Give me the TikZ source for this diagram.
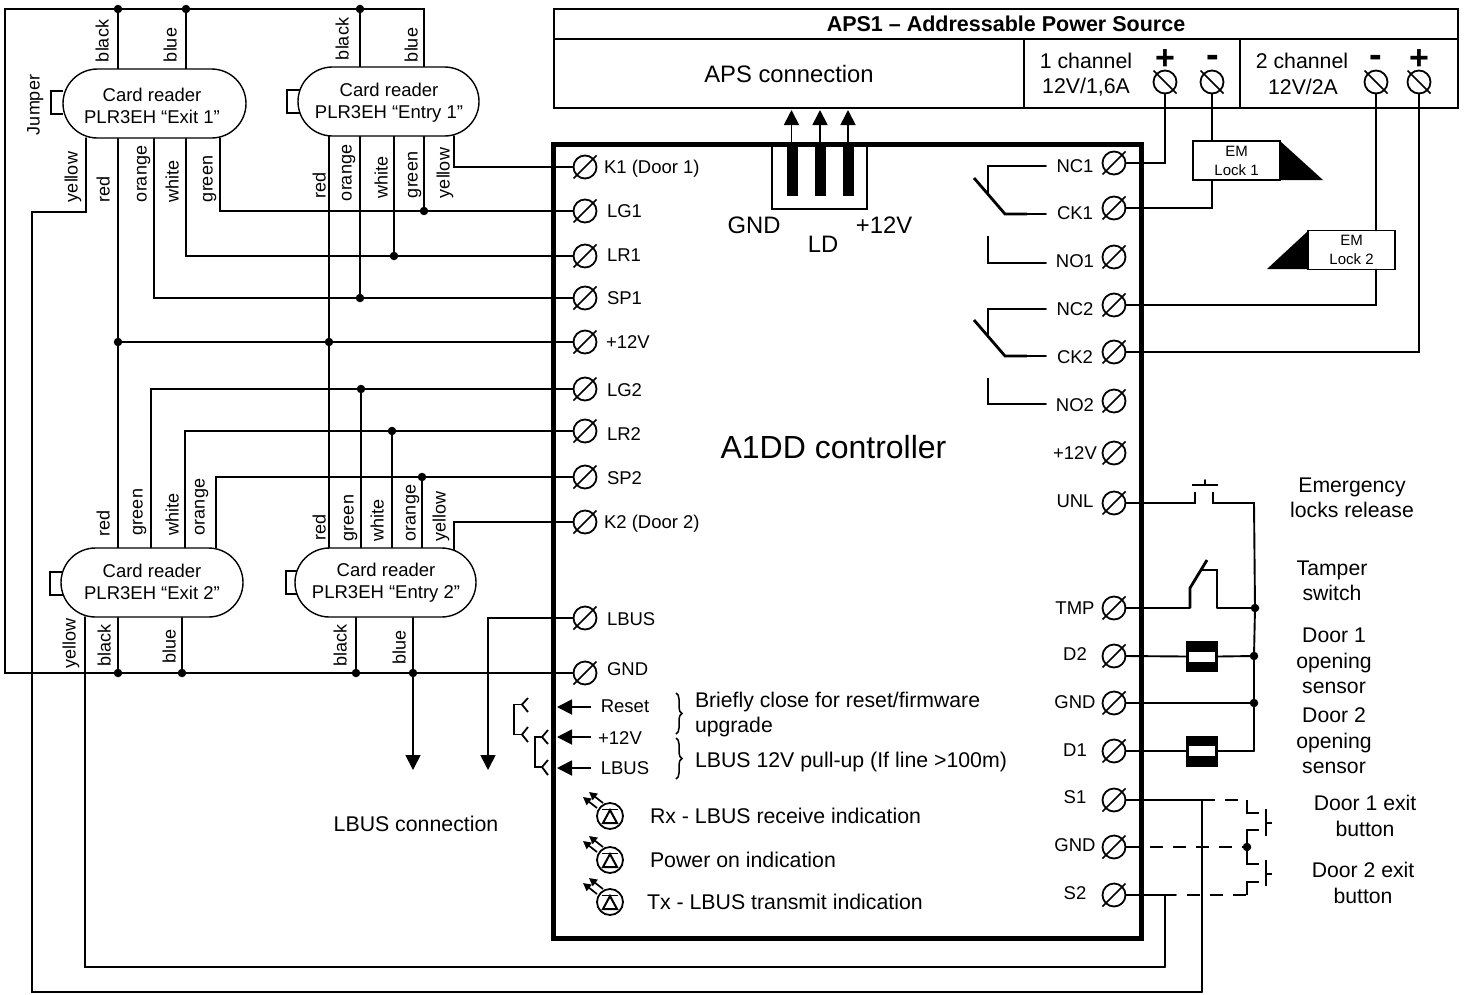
\documentclass[tikz,border=0pt]{standalone}
\usepackage{fontspec}
\setmainfont{Liberation Sans}
\usetikzlibrary{arrows.meta,shapes.misc,decorations.pathreplacing}
\tikzset{
  x=1pt,y=-1pt,
  every node/.style={inner sep=0pt,outer sep=0pt},
  wire/.style={line width=1.9pt,line cap=round,line join=miter},
  hvy/.style={line width=2.8pt,line join=miter},
  dashw/.style={line width=1.9pt,dash pattern=on 13pt off 10pt},
  frame/.style={line width=5pt,line join=miter},
  apsb/.style={line width=2.8pt,line join=miter},
  termc/.style={circle,draw,line width=1.8pt,minimum size=23pt,fill=white},
  termslash/.style={line width=1.6pt},
  dot/.style={circle,fill=black,minimum size=8.5pt},
  reader/.style={rounded rectangle,draw,line width=1.4pt,fill=white},
  rtext/.style={align=center,font=\fontsize{18.5}{22}\selectfont},
  jump/.style={line width=1.8pt},
  t18/.style={font=\fontsize{18.5}{22}\selectfont,text depth=0pt,text height=13pt},
  t21/.style={font=\fontsize{21.2}{25.5}\selectfont,align=center},
  t21s/.style={font=\fontsize{21.3}{25}\selectfont,text depth=0pt,text height=15pt},
  t23/.style={font=\fontsize{23.8}{28}\selectfont,text depth=0pt,text height=17pt},
  vlabel/.style={font=\fontsize{18}{22}\selectfont,rotate=90,anchor=base west},
  emlock/.style={rectangle,draw,line width=1.4pt,align=center,minimum width=87pt,minimum height=39pt,
     font=\fontsize{15}{19}\selectfont},
  sensb/.style={rectangle,fill=black,minimum width=32pt,minimum height=31pt},
  sensw/.style={rectangle,fill=white,minimum width=26pt,minimum height=10pt},
  bigarr/.style={line width=1.8pt,-{Triangle[length=15pt,width=15pt]}},
  ledarr/.style={line width=1.7pt,-{Triangle[length=8pt,width=8pt]}},
  bracew/.style={line width=1.5pt,decorate,decoration={brace,amplitude=6pt}},
  led/.pic={
    \draw[line width=1.8pt] (0,0) circle[radius=13];
    \draw[line width=2pt] (-7,7) -- (7,7) -- (0,-6) -- cycle;
    \draw[line width=1.5pt] (-8,-6.5) -- (8,-6.5);
    \draw[ledarr] (-13,-8) -- (-27,-19);
    \draw[ledarr] (-7,-13) -- (-21,-24);
  },
}
\newcommand{\term}[3]{\node[termc] (#1) at (#2,#3) {};
  \draw[termslash] ([shift={(-11.5,11.5)}]#1.center) -- ([shift={(11.5,-11.5)}]#1.center);}
\newcommand{\termb}[3]{\node[termc] (#1) at (#2,#3) {};
  \draw[termslash] ([shift={(-11.5,-11.5)}]#1.center) -- ([shift={(11.5,11.5)}]#1.center);}
\newcommand{\vlab}[3]{\node[vlabel] (v-#1-#2) at (#1+6.5,#2) {#3};}
\newcommand{\junc}[3]{\node[dot] (#1) at (#2,#3) {};}
\begin{document}
\begin{tikzpicture}
\useasboundingbox (0,0) rectangle (1464,994);

%% terminals left
\term{tk1}{585}{167}\term{tlg1}{585}{211}\term{tlr1}{585}{256}\term{tsp1}{585}{298}
\term{tpa}{585}{342}\term{tlg2}{585}{389}\term{tlr2}{585}{431}\term{tsp2}{585}{477}
\term{tk2}{585}{522}\term{tlb}{585}{618}\term{tgn}{585}{673}
%% terminals right
\term{tnc1}{1114}{163}\term{tck1}{1114}{208}\term{tno1}{1114}{257}
\term{tnc2}{1114}{305}\term{tck2}{1114}{352}\term{tno2}{1114}{401}
\term{tpb}{1114}{453}\term{tun}{1114}{503}\term{ttm}{1114}{608}
\term{td2}{1114}{656}\term{tg2}{1114}{703}\term{td1}{1114}{751}
\term{ts1}{1114}{800}\term{tg3}{1114}{847}\term{ts2}{1114}{895}

%% APS
\draw[apsb] (554,9) rectangle (1458,108);
\draw[apsb] (554,39) -- (1458,39);
\draw[apsb] (1024,39) -- (1024,108);
\draw[apsb] (1240,39) -- (1240,108);
\node[font=\bfseries\fontsize{21.5}{25}\selectfont] (apst) at (1006,24) {APS1 – Addressable Power Source};
\node[t23] (apsc) at (789,74) {APS connection};
\node[t21s] (ch1a) at (1086,61) {1 channel};
\node[t21s] (ch1b) at (1086,86) {12V/1,6A};
\node[t21s] (ch2a) at (1302,61) {2 channel};
\node[t21s] (ch2b) at (1303,87) {12V/2A};
\termb{ap1}{1165}{82}\termb{am1}{1212}{82}\termb{am2}{1376}{82}\termb{ap2}{1419}{82}
\node[font=\bfseries\fontsize{34}{34}\selectfont] (pl1) at (1165,60) {+};
\node[font=\bfseries\fontsize{38}{38}\selectfont] (mn1) at (1213,61) {-};
\node[font=\bfseries\fontsize{38}{38}\selectfont] (mn2) at (1376,61) {-};
\node[font=\bfseries\fontsize{34}{34}\selectfont] (pl2) at (1419,60) {+};

%% EM locks
\node[emlock] (em1) at (1236.5,160.5) {EM\\Lock 1};
\fill (1280,141) -- (1323,180) -- (1280,180) -- cycle;
\node[emlock] (em2) at (1351.5,250) {EM\\Lock 2};
\fill (1308,231) -- (1267,269) -- (1308,269) -- cycle;
\draw[wire] (ap1.south) -- (ap1.south |- tnc1.east) -- (tnc1.east);
\draw[wire] (am1.south) -- (am1.south |- em1.north);
\draw[wire] (am1.south |- em1.south) |- (tck1.east);
\draw[wire] (am2.south) -- (am2.south |- em2.north);
\draw[wire] (am2.south |- em2.south) |- (tnc2.east);
\draw[wire] (ap2.south) |- (tck2.east);

%% wires from readers, coordinates on readers
\coordinate (ctl) at (5,9);
\coordinate (ctr) at (424,9);
\coordinate (cbk1) at (118,69);
\coordinate (cbl1) at (186,69);
\coordinate (cbk2) at (360,67);
\coordinate (cbl2) at (424,67);
\junc{j1}{118}{9}\junc{j2}{186}{9}\junc{j3}{360}{9}
\draw[wire] (tgn.west) -| (ctl) -- (ctr) -- (cbl2);
\draw[wire] (j1) -- (cbk1);
\draw[wire] (j2) -- (cbl1);
\draw[wire] (j3) -- (cbk2);

% below exit 1
\coordinate (e1y) at (86,138);
\coordinate (e1r) at (118,138);
\coordinate (e1o) at (154,138);
\coordinate (e1w) at (186,138);
\coordinate (e1g) at (220,138);
\coordinate (ylo) at (32,212);
\coordinate (ylb) at (32,992);
\coordinate (ylr) at (1202,992);
\draw[wire] (e1y) |- (ylo) -- (ylb) -- (ylr);
\draw[wire] (e1g) |- (tlg1.west);
\draw[wire] (e1w) |- (tlr1.west);
\draw[wire] (e1o) |- (tsp1.west);
% below entry 1
\coordinate (n1r) at (329,136);
\coordinate (n1o) at (360,136);
\coordinate (n1w) at (394,136);
\coordinate (n1g) at (424,136);
\coordinate (n1y) at (454,136);
\junc{j4}{424}{211}\junc{j5}{394}{256}\junc{j6}{360}{298}
\junc{j7}{118}{342}\junc{j8}{329}{342}
\draw[wire] (n1g) -- (j4);
\draw[wire] (n1w) -- (j5);
\draw[wire] (n1o) -- (j6);
\draw[wire] (n1y) |- (tk1.west);
\draw[wire] (j7) -- (tpa.west);
% red wires
\coordinate (x2r) at (118,548);
\coordinate (n2r) at (329,548);
\draw[wire] (e1r) -- (x2r);
\draw[wire] (n1r) -- (n2r);
% top of exit 2
\coordinate (x2g) at (151,548);
\coordinate (x2w) at (185,548);
\coordinate (x2o) at (216,548);
\draw[wire] (x2g) |- (tlg2.west);
\draw[wire] (x2w) |- (tlr2.west);
\draw[wire] (x2o) |- (tsp2.west);
% top of entry 2
\coordinate (n2g) at (361,548);
\coordinate (n2w) at (392,548);
\coordinate (n2o) at (422,548);
\coordinate (n2y) at (454,552);
\junc{j9}{361}{389}\junc{j10}{392}{431}\junc{j11}{422}{477}
\draw[wire] (n2g) -- (j9);
\draw[wire] (n2w) -- (j10);
\draw[wire] (n2o) -- (j11);
\draw[wire] (n2y) |- (tk2.west);
% bottom of readers 2
\coordinate (x2y) at (85,617);
\coordinate (x2k) at (118,617);
\coordinate (x2l) at (182,617);
\coordinate (n2k) at (356,617);
\coordinate (n2l) at (413,617);
\coordinate (ylc) at (85,967);
\coordinate (ylt) at (1165,967);
\junc{j12}{118}{673}\junc{j13}{182}{673}\junc{j14}{356}{673}\junc{j15}{413}{673}
\draw[wire] (x2y) -- (ylc) -- (ylt);
\draw[wire] (x2k) -- (j12);
\draw[wire] (x2l) -- (j13);
\draw[wire] (n2k) -- (j14);
\coordinate (arg) at (413,770);
\coordinate (arb) at (488,770);
\draw[bigarr] (n2l) -- (arg);
\draw[bigarr] (tlb.west) -| (arb);

%% readers
\draw[jump] (63,91) -- (51,91) -- (51,114) -- (63,114);
\draw[jump] (300,90) -- (287,90) -- (287,113) -- (300,113);
\draw[jump] (63,572) -- (50,572) -- (50,595) -- (63,595);
\draw[jump] (298,571) -- (286,571) -- (286,594) -- (298,594);
\node[reader,minimum width=183pt,minimum height=69pt] (r1) at (154.5,103.5) {};
\node[reader,minimum width=181pt,minimum height=69pt] (r2) at (388.5,101.5) {};
\node[reader,minimum width=182pt,minimum height=69pt] (r3) at (152,582.5) {};
\node[reader,minimum width=181pt,minimum height=69pt] (r4) at (385.5,582.5) {};
\node[rtext] (r1t) at (152,106) {Card reader\\PLR3EH “Exit 1”};
\node[rtext] (r2t) at (389,103) {Card reader\\PLR3EH “Entry 1”};
\node[rtext] (r3t) at (152,582) {Card reader\\PLR3EH “Exit 2”};
\node[rtext] (r4t) at (386,583) {Card reader\\PLR3EH “Entry 2”};

%% wire labels
\vlab{102}{62}{black}\vlab{170}{62}{blue}\vlab{342}{60}{black}\vlab{411}{62}{blue}
\node[vlabel] (vjmp) at (39.5,135) {Jumper};
\vlab{71}{202}{yellow}\vlab{103}{202}{red}\vlab{140}{202}{orange}\vlab{172}{202}{white}\vlab{206}{202}{green}
\vlab{319}{198}{red}\vlab{345}{201}{orange}\vlab{381}{198}{white}\vlab{411}{198}{green}\vlab{443}{198}{yellow}
\vlab{103}{536}{red}\vlab{136}{535}{green}\vlab{172}{535}{white}\vlab{198}{535}{orange}
\vlab{319}{540}{red}\vlab{347}{541}{green}\vlab{377}{541}{white}\vlab{409}{541}{orange}\vlab{439}{541}{yellow}
\vlab{69}{668}{yellow}\vlab{104}{666}{black}\vlab{169}{663}{blue}\vlab{340}{666}{black}\vlab{399}{664}{blue}

%% frame
\draw[frame] (553.5,144.5) rectangle (1141,938);

%% left terminal labels
\node[t18,anchor=west] (lk1) at (604,167) {K1 (Door 1)};
\node[t18,anchor=west] (llg1) at (607,211) {LG1};
\node[t18,anchor=west] (llr1) at (607,255) {LR1};
\node[t18,anchor=west] (lsp1) at (607,298) {SP1};
\node[t18,anchor=west] (lpa) at (606,342) {+12V};
\node[t18,anchor=west] (llg2) at (607,390) {LG2};
\node[t18,anchor=west] (llr2) at (607,434) {LR2};
\node[t18,anchor=west] (lsp2) at (607,478) {SP2};
\node[t18,anchor=west] (lk2) at (604,522) {K2 (Door 2)};
\node[t18,anchor=west] (llb) at (607,619) {LBUS};
\node[t18,anchor=west] (lgn) at (607,669) {GND};
%% right terminal labels
\node[t18] (lnc1) at (1075,166) {NC1};
\node[t18] (lck1) at (1075,213) {CK1};
\node[t18] (lno1) at (1075,261) {NO1};
\node[t18] (lnc2) at (1075,309) {NC2};
\node[t18] (lck2) at (1075,357) {CK2};
\node[t18] (lno2) at (1075,405) {NO2};
\node[t18] (lpb) at (1075,453) {+12V};
\node[t18] (lun) at (1075,501) {UNL};
\node[t18] (ltm) at (1075,608) {TMP};
\node[t18] (ld2) at (1075,654) {D2};
\node[t18] (lg2) at (1075,702) {GND};
\node[t18] (ld1) at (1075,750) {D1};
\node[t18] (ls1) at (1075,797) {S1};
\node[t18] (lg3) at (1075,845) {GND};
\node[t18] (ls2) at (1075,893) {S2};

%% LD connector
\draw[wire] (772,145) -- (772,209) -- (867,209) -- (867,145);
\fill (787,145) rectangle (798,196);
\fill (815,145) rectangle (826,196);
\fill (843,145) rectangle (854,196);
\coordinate (a1s) at (791.5,145);\coordinate (a1t) at (791.5,110);
\coordinate (a2s) at (820,145);\coordinate (a2t) at (820,110);
\coordinate (a3s) at (848,145);\coordinate (a3t) at (848,110);
\draw[bigarr] (a1s) -- (a1t);
\draw[bigarr] (a2s) -- (a2t);
\draw[bigarr] (a3s) -- (a3t);
\node[t23] (ldg) at (754,225) {GND};
\node[t23] (ldp) at (884,225) {+12V};
\node[t23] (ldl) at (823,244) {LD};
\node[font=\fontsize{32}{36}\selectfont] (ctrl) at (833.5,447) {A1DD controller};

%% relays
\draw[hvy] (1027,166) -- (988,166) -- (988,195);
\draw[wire] (1027,166) -- (1046,166);
\draw[hvy] (974,178) -- (1005,214) -- (1027,214);
\draw[wire] (1027,214) -- (1046,214);
\draw[hvy] (988,236) -- (988,263) -- (1027,263);
\draw[wire] (1027,263) -- (1046,263);
\draw[hvy] (1027,309) -- (988,309) -- (988,338);
\draw[wire] (1027,309) -- (1046,309);
\draw[hvy] (974,320) -- (1005,356) -- (1027,356);
\draw[wire] (1027,356) -- (1046,356);
\draw[hvy] (988,378) -- (988,404) -- (1027,404);
\draw[wire] (1027,404) -- (1046,404);

%% right lower circuit
\junc{j20}{1255}{608}\junc{j21}{1254}{656}\junc{j22}{1254}{703}
\coordinate (uc1) at (1184,503);
\coordinate (uc2) at (1225,503);
\coordinate (ur) at (1254,503);
\coordinate (dr) at (1254,751);
\draw[wire] (tun.east) -- (uc1);
\draw[hvy] (uc1) -- (1195,503) -- (1195,492);
\draw[hvy] (1213,492) -- (1213,503) -- (uc2);
\draw[wire] (uc2) -- (ur) -- (j20);
\draw[hvy] (1192,485) -- (1218,485);
\draw[wire] (1205,480) -- (1205,485);
\draw[wire] (j20) -- (j21) -- (j22) -- (dr);
\draw[wire] (ttm.east) -- (1190,608);
\draw[hvy] (1190,608) -- (1190,588) -- (1207,560);
\draw[hvy] (1200,570) -- (1217,570) -- (1217,608);
\draw[wire] (1217,608) -- (j20);
\node[sensb] (sd2) at (1202,656.5) {};
\node[sensw] at (1202,657) (sd2w) {};
\node[sensb] (sd1) at (1202,751) {};
\node[sensw] at (1202,751) (sd1w) {};
\draw[wire] (td2.east) -- (sd2.west);
\draw[wire] (sd2.east) -- (j21);
\draw[wire] (tg2.east) -- (j22);
\draw[wire] (td1.east) -- (sd1.west);
\draw[wire] (sd1.east) -- (dr);

%% exit buttons
\coordinate (v1) at (1202,800);
\coordinate (v2) at (1165,895);
\junc{j30}{1247}{847}
\draw[wire] (ts1.east) -- (v1) -- (ylr);
\draw[wire] (ts2.east) -- (1176,895);
\draw[wire] (v2) -- (ylt);
\draw[dashw] (v1) -- (1240,800);
\draw[dashw] (1187,895) -- (1247,895);
\draw[wire] (tg3.east) -- (1142,847);
\draw[dashw] (1150,847) -- (j30);
\draw[hvy] (1247,800) -- (1247,813) -- (1259,813);
\draw[hvy] (1259,830) -- (1247,830) -- (1247,864) -- (1259,864);
\draw[hvy] (1259,882) -- (1247,882) -- (1247,895);
\draw[hvy] (1266,809) -- (1266,836);
\draw[hvy] (1266,823) -- (1272,823);
\draw[hvy] (1266,860) -- (1266,886);
\draw[hvy] (1266,874) -- (1272,874);

%% right texts
\node[t21] (temg) at (1352,498) {Emergency\\locks release};
\node[t21] (ttmp) at (1332,581) {Tamper\\switch};
\node[t21] (tds1) at (1334,661) {Door 1\\opening\\sensor};
\node[t21] (tds2) at (1334,741) {Door 2\\opening\\sensor};
\node[t21] (tex1) at (1365,816) {Door 1 exit\\button};
\node[t21] (tex2) at (1363,883) {Door 2 exit\\button};

%% jumpers and indications
\coordinate (rt) at (557,707);\coordinate (rs) at (591,707);
\coordinate (pt) at (557,737);\coordinate (ps) at (591,737);
\coordinate (bt) at (557,768);\coordinate (bs) at (591,768);
\draw[bigarr] (rs) -- (rt);
\draw[bigarr] (ps) -- (pt);
\draw[bigarr] (bs) -- (bt);
\node[t18] (lrs) at (625,706) {Reset};
\node[t18] (lp3) at (620,738) {+12V};
\node[t18] (lb3) at (625,768) {LBUS};
\draw[jump,line join=miter] (528,698) -- (522,704.5) -- (528,712);
\draw[jump,line join=miter] (528,727) -- (522,734.5) -- (528,742);
\draw[jump] (522,704.5) -- (514,704.5) -- (514,734.5) -- (522,734.5);
\draw[jump,line join=miter] (548,730) -- (542,737) -- (548,744);
\draw[jump,line join=miter] (548,760) -- (542,767) -- (548,775);
\draw[jump] (542,737) -- (535,737) -- (535,767) -- (542,767);
\draw[bracew] (676,693) -- (676,734);
\draw[bracew] (676,738) -- (676,779);
\node[t21,align=left,anchor=west] (tbr) at (695,714.5) {Briefly close for reset/firmware\\upgrade};
\node[t21s,anchor=west] (tlb2) at (695,760) {LBUS 12V pull-up (If line >100m)};
\pic at (610,816) {led};
\pic at (610,860) {led};
\pic at (610,902) {led};
\node[t21s,anchor=west] (trx) at (650,816) {Rx - LBUS receive indication};
\node[t21s,anchor=west] (tpw) at (650,860) {Power on indication};
\node[t21s,anchor=west] (ttx) at (647,902) {Tx - LBUS transmit indication};
\node[t21s] (tlbc) at (416,824) {LBUS connection};
\end{tikzpicture}
\end{document}
